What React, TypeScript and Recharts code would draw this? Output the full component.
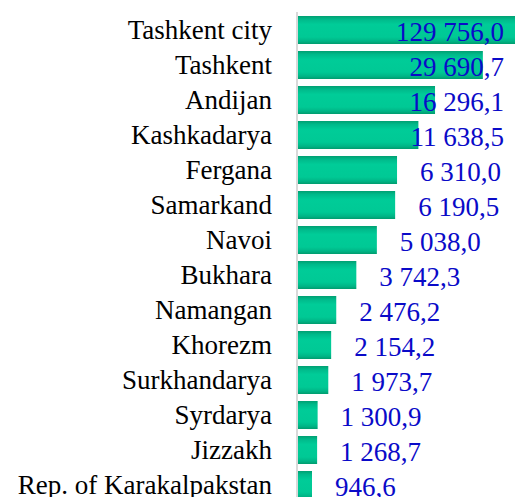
import React from "react";
import { BarChart, Bar, XAxis, YAxis } from "recharts";

const regions = [
  "Tashkent city",
  "Tashkent",
  "Andijan",
  "Kashkadarya",
  "Fergana",
  "Samarkand",
  "Navoi",
  "Bukhara",
  "Namangan",
  "Khorezm",
  "Surkhandarya",
  "Syrdarya",
  "Jizzakh",
  "Rep. of Karakalpakstan",
];

const volumes = [
  129756.0, 29690.7, 16296.1, 11638.5, 6310.0, 6190.5, 5038.0, 3742.3, 2476.2,
  2154.2, 1973.7, 1300.9, 1268.7, 946.6,
];

// value axis is broken: linear up to the first break, then compressed
const axisBreaks = [0, 6500, 30000, 130000];
const axisStops = [0, 0.458, 0.831, 1];

const data = regions.map((name, i) => ({ name, value: volumes[i] }));

const SERIF = "Liberation Serif, DejaVu Serif, serif";

function makeBrokenScale(breaks: number[], stops: number[]): any {
  let domain = [breaks[0], breaks[breaks.length - 1]];
  let range = [0, 1];
  const toFrac = (v: number) => {
    for (let i = 1; i < breaks.length; i++) {
      if (v <= breaks[i] || i === breaks.length - 1) {
        const t = (v - breaks[i - 1]) / (breaks[i] - breaks[i - 1]);
        return stops[i - 1] + t * (stops[i] - stops[i - 1]);
      }
    }
    return 0;
  };
  const scale: any = (v: any) =>
    range[0] + toFrac(Number(v)) * (range[1] - range[0]);
  scale.domain = (d?: number[]) => {
    if (d === undefined) return domain.slice();
    domain = d.slice();
    return scale;
  };
  scale.range = (r?: number[]) => {
    if (r === undefined) return range.slice();
    range = r.slice();
    return scale;
  };
  scale.copy = () => makeBrokenScale(breaks, stops).domain(domain).range(range);
  scale.ticks = () => breaks.slice();
  scale.tickFormat = () => (v: number) => String(v);
  return scale;
}

const fmt = (v: number) => {
  const [int, dec] = v.toFixed(1).split(".");
  return int.replace(/\B(?=(\d{3})+(?!\d))/g, " ") + "," + dec;
};

const LABEL_SIZE = 27;
const RIGHT_LIMIT = 504;

const textWidth = (s: string) =>
  s.split("").reduce((w, c) => w + (c === " " || c === "," ? 0.25 : 0.5), 0) *
  LABEL_SIZE;

const renderValueLabel = (props: any) => {
  const { x, y, width, height, value } = props;
  const text = fmt(Number(value));
  const start = x + width + 23;
  const overflow = start + textWidth(text) > RIGHT_LIMIT;
  return (
    <text
      x={overflow ? RIGHT_LIMIT : start}
      y={y + height / 2}
      dy="0.42em"
      textAnchor={overflow ? "end" : "start"}
      fill="#0a0ac8"
      fontSize={LABEL_SIZE}
      style={{ fontFamily: SERIF }}
    >
      {text}
    </text>
  );
};

export default function App() {
  return (
    <div
      style={{
        position: "fixed",
        left: 0,
        top: 0,
        width: 515,
        height: 497,
        overflow: "hidden",
        background: "#fff",
        fontFamily: SERIF,
      }}
    >
      <BarChart
        width={540}
        height={505}
        data={data}
        layout="vertical"
        margin={{ top: 12, right: 18, bottom: 3, left: 0 }}
        style={{ fontFamily: SERIF }}
      >
        <defs>
          <linearGradient id="barFill" x1="0" y1="0" x2="0" y2="1">
            <stop offset="0%" stopColor="#00a072" />
            <stop offset="12%" stopColor="#00b98a" />
            <stop offset="30%" stopColor="#00cc98" />
            <stop offset="75%" stopColor="#00c995" />
            <stop offset="90%" stopColor="#00b586" />
            <stop offset="100%" stopColor="#009c6e" />
          </linearGradient>
        </defs>
        <XAxis
          type="number"
          hide
          domain={[0, 130000]}
          scale={makeBrokenScale(axisBreaks, axisStops)}
        />
        <YAxis
          type="category"
          dataKey="name"
          width={297}
          tickLine={false}
          tickSize={0}
          tickMargin={25}
          axisLine={{ stroke: "#d9d9d9", strokeWidth: 2 }}
          tick={{ fill: "#000", fontSize: 27, fontFamily: SERIF }}
          interval={0}
        />
        <Bar
          dataKey="value"
          fill="url(#barFill)"
          barSize={28}
          isAnimationActive={false}
          label={renderValueLabel}
        />
      </BarChart>
    </div>
  );
}
